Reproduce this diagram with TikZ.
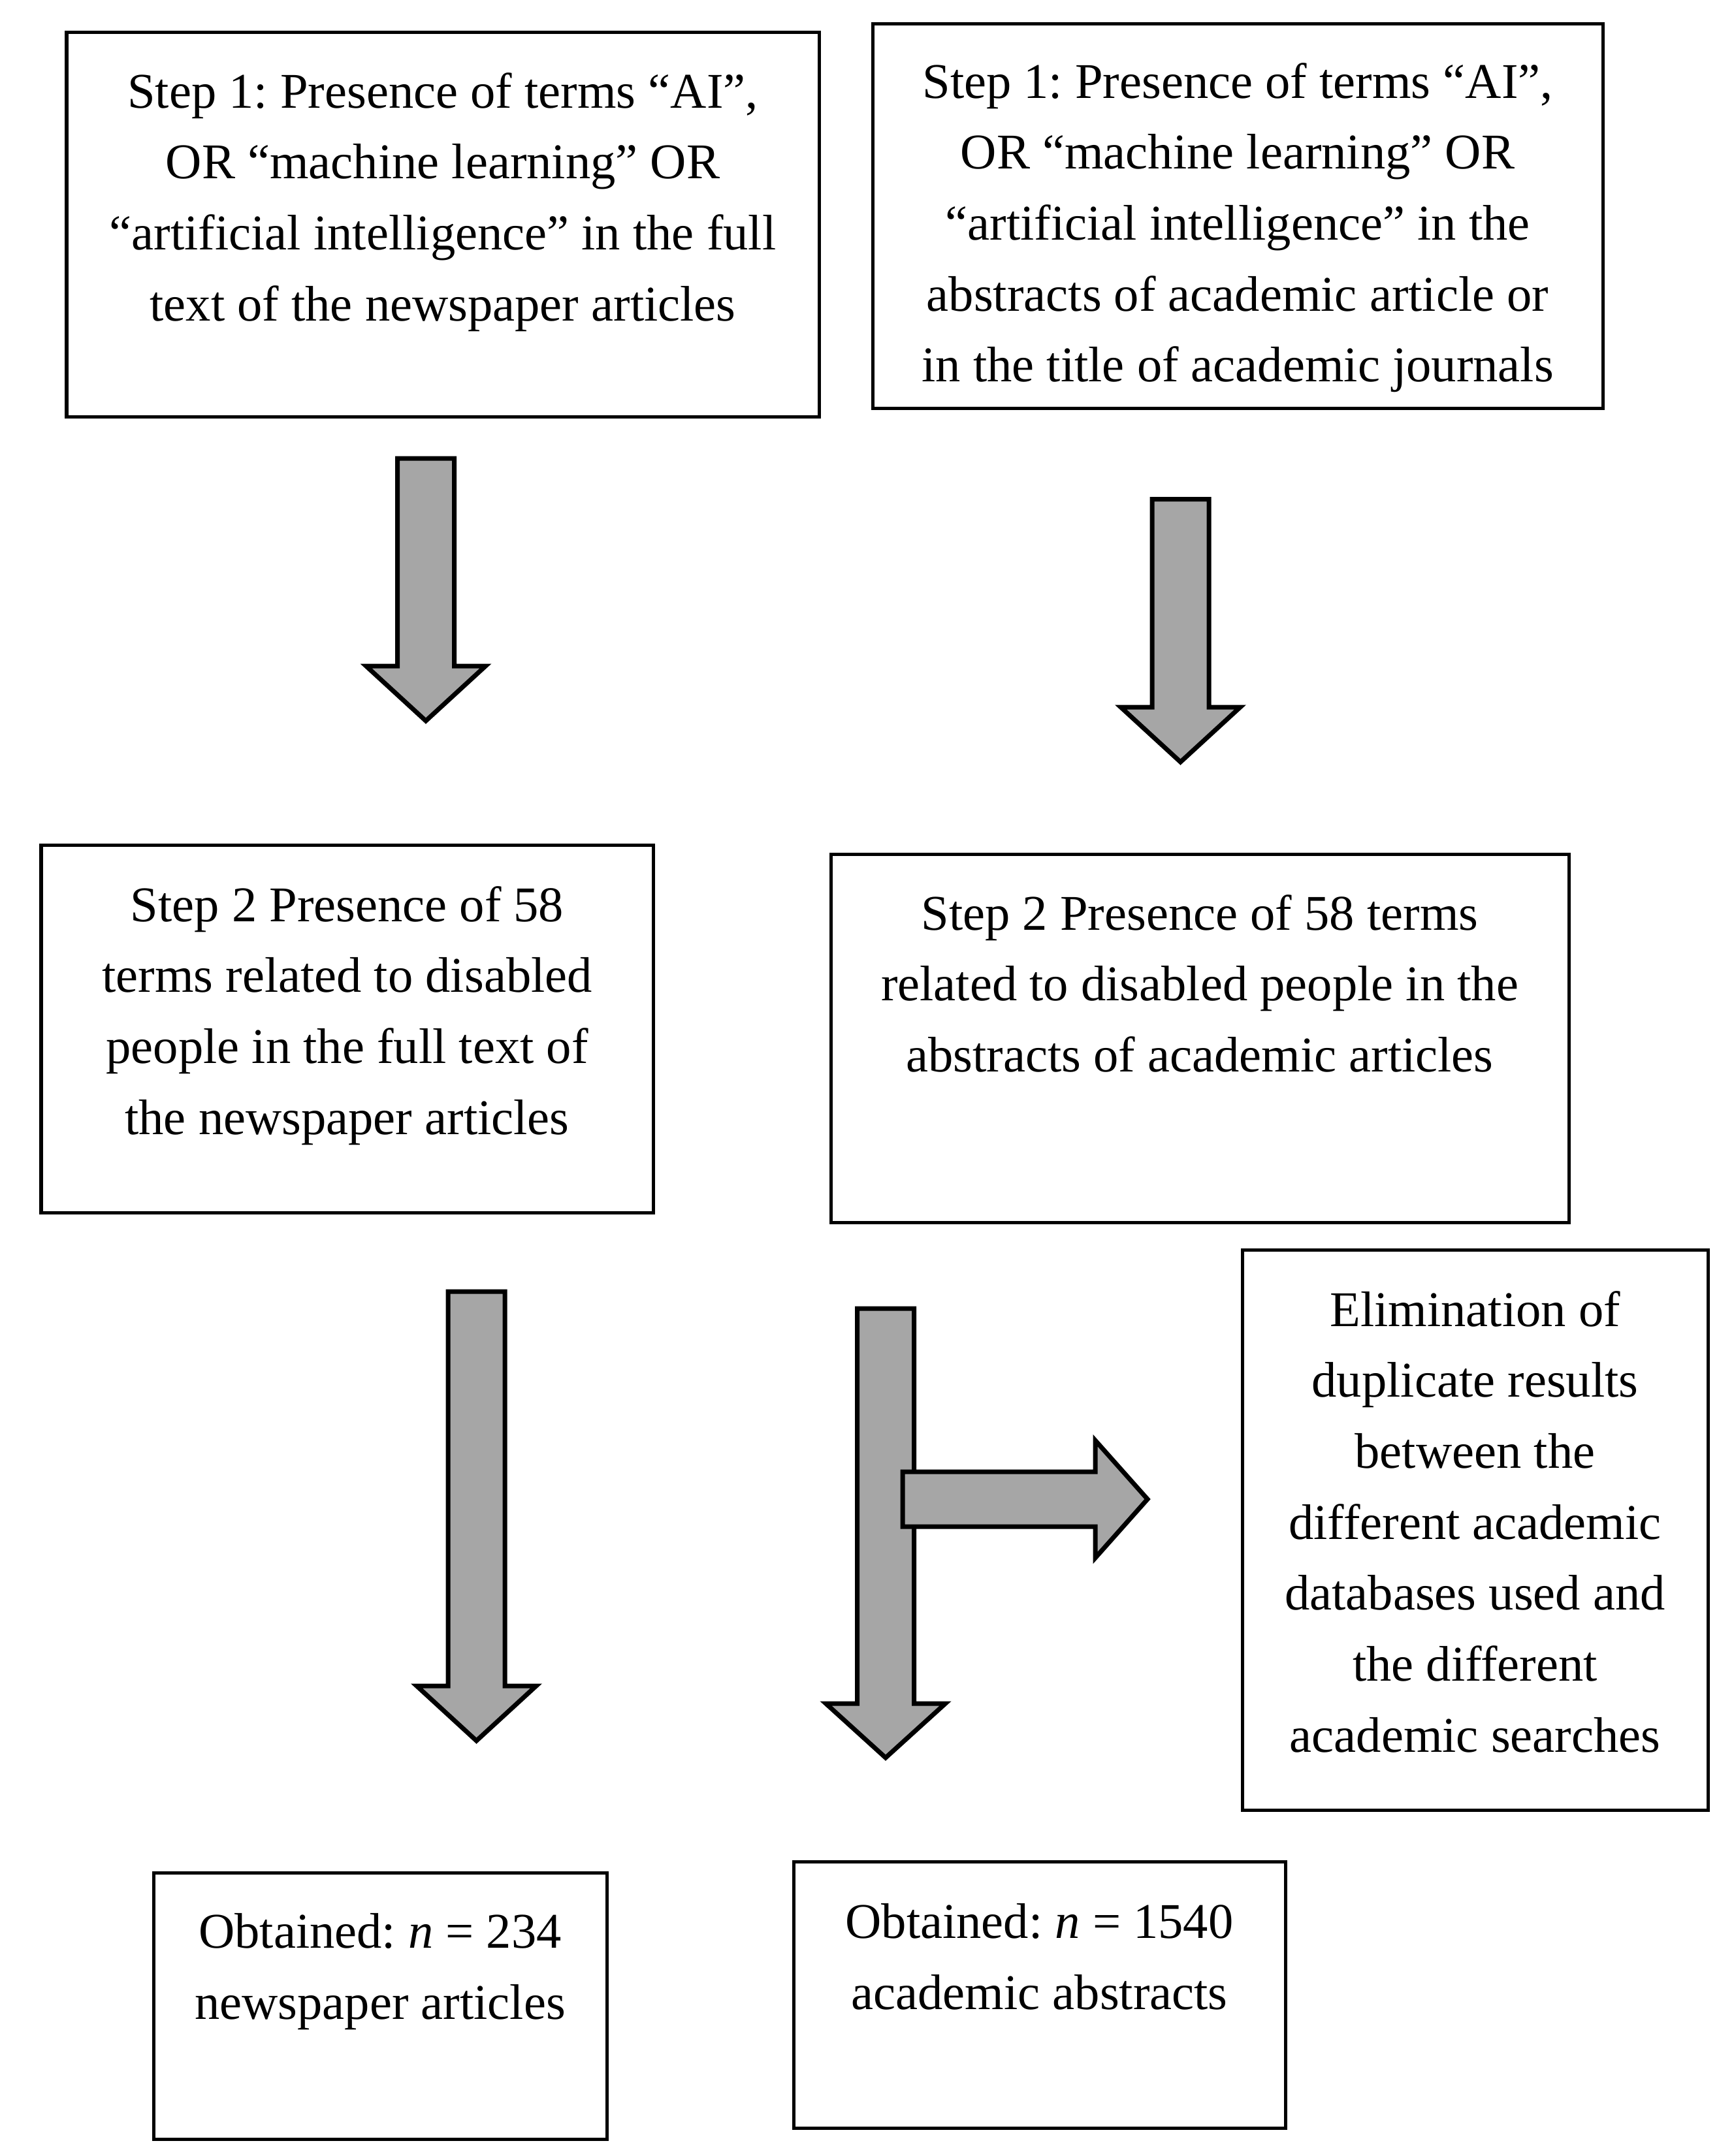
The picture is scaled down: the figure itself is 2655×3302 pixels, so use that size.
\documentclass[tikz,border=0pt]{standalone}
\usepackage{fontspec}
\setmainfont{Liberation Serif}
\usetikzlibrary{fit}
\definecolor{arrowgray}{HTML}{A6A6A6}
\frenchspacing
% #1 centre x, #2 top, #3 head base, #4 tip, #5 shaft half width, #6 head half width
\newcommand\mydownarrow[6]{%
  \draw[blk] ({#1-#5},#2) -- ({#1+#5},#2) -- ({#1+#5},#3) -- ({#1+#6},#3)
    -- (#1,#4) -- ({#1-#6},#3) -- ({#1-#5},#3) -- cycle;}
\begin{document}
\begin{tikzpicture}[x=0.01cm,y=-0.01cm,
  box/.style={draw=black, line width=0.05cm, inner sep=0pt, outer sep=0pt},
  blk/.style={draw=black, line width=0.07cm, fill=arrowgray, line join=miter},
  txt/.style={font=\fontsize{21.77pt}{31pt}\selectfont\frenchspacing, anchor=base, inner sep=0pt}]
\useasboundingbox[fill=white] (0,0) rectangle (2655,3302);

% boxes
\node[box, fit={(102,49) (1254,638)}] (b1) {};
\node[box, fit={(1336,36) (2454,625)}] (b2) {};
\node[box, fit={(63,1294) (1000,1857)}] (b3) {};
\node[box, fit={(1272,1308) (2402,1872)}] (b4) {};
\node[box, fit={(1902,1914) (2615,2772)}] (b5) {};
\node[box, fit={(235,2868) (929,3276)}] (b6) {};
\node[box, fit={(1215,2851) (1968,3259)}] (b7) {};

% box 1 text
\node[txt] (t1a) at (678,165) {Step 1: Presence of terms “AI”,};
\node[txt] (t1b) at (678,273.7) {OR “machine learning” OR};
\node[txt] (t1c) at (678,382.4) {“artificial intelligence” in the full};
\node[txt] (t1d) at (678,491.1) {text of the newspaper articles};

% box 2 text
\node[txt] (t2a) at (1895,150) {Step 1: Presence of terms “AI”,};
\node[txt] (t2b) at (1895,258.7) {OR “machine learning” OR};
\node[txt] (t2c) at (1895,367.4) {“artificial intelligence” in the};
\node[txt] (t2d) at (1895,476.1) {abstracts of academic article or};
\node[txt] (t2e) at (1895,584.8) {in the title of academic journals};

% box 3 text
\node[txt] (t3a) at (531.5,1411) {Step 2 Presence of 58};
\node[txt] (t3b) at (531.5,1519.7) {terms related to disabled};
\node[txt] (t3c) at (531.5,1628.4) {people in the full text of};
\node[txt] (t3d) at (531.5,1737.1) {the newspaper articles};

% box 4 text
\node[txt] (t4a) at (1837,1424) {Step 2 Presence of 58 terms};
\node[txt] (t4b) at (1837,1532.7) {related to disabled people in the};
\node[txt] (t4c) at (1837,1641.4) {abstracts of academic articles};

% box 5 text
\node[txt] (t5a) at (2258.5,2031) {Elimination of};
\node[txt] (t5b) at (2258.5,2139.7) {duplicate results};
\node[txt] (t5c) at (2258.5,2248.4) {between the};
\node[txt] (t5d) at (2258.5,2357.1) {different academic};
\node[txt] (t5e) at (2258.5,2465.8) {databases used and};
\node[txt] (t5f) at (2258.5,2574.5) {the different};
\node[txt] (t5g) at (2258.5,2683.2) {academic searches};

% box 6 text
\node[txt] (t6a) at (582,2983) {Obtained: \textit{n} = 234};
\node[txt] (t6b) at (582,3092) {newspaper articles};

% box 7 text
\node[txt] (t7a) at (1591.5,2968) {Obtained: \textit{n} = 1540};
\node[txt] (t7b) at (1591.5,3077) {academic abstracts};

% block arrows
\mydownarrow{652}{702}{1020}{1104}{43.5}{91.5}
\mydownarrow{1807.5}{764.5}{1083}{1167}{43.5}{91.5}
\mydownarrow{729.5}{1978}{2582}{2666}{43.5}{91.5}
\mydownarrow{1356}{2004}{2609}{2692}{43.5}{91.5}
\draw[blk] (1382,2254) -- (1677,2254) -- (1677,2206) -- (1757,2296)
  -- (1677,2386) -- (1677,2338) -- (1382,2338) -- cycle;
\end{tikzpicture}
\end{document}
